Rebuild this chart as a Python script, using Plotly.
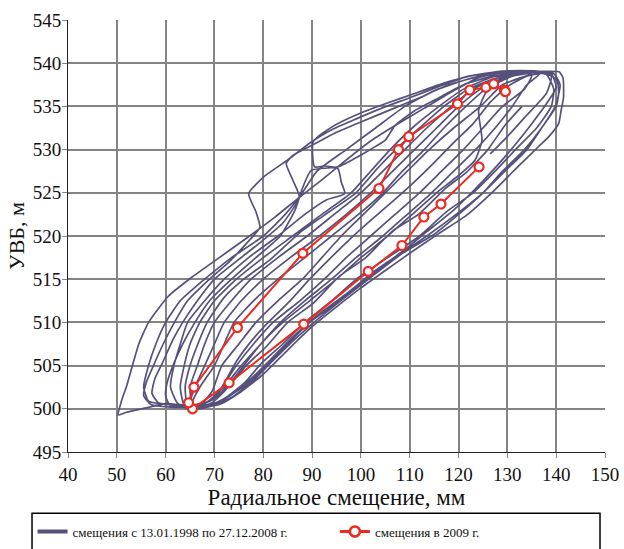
import plotly.graph_objects as go

# ---- dark series: radial displacement vs. upstream level, 1998-2008 (drawdown branch, then filling branch) ----
pts_1998 = [(133,535),(129.5,532.8),(126,530),(121.5,527.3),(117.5,525.6),(111.8,522.5),(106.5,520.6),(101,517.5),
            (95.5,515.3),(90.2,512.2),(85,510),(80.8,507.3),(76.5,505),(72,502),(69.5,500.7),(67,500.2),
            (64.5,500.4),(64,502.5),(65,505),(66.6,507.5),(68.5,510),(72,512.9),(76,515),(81.5,517.3),(87.5,520.4),
            (93.5,522.8),(99,525),(103.5,527.9),(107.5,530.2),(112,532.5),(117,535),(122,537),(128,538.3),(134,538.9)]
pts_1999 = [(138,538.7),(139.5,537),(139,535),(136,532.5),(132,530.2),(127.5,527.5),(123,525),(117.5,522.8),(112,520),
            (105.5,517.5),(99.5,515.2),(94,512.5),(88.5,510),(84,507.5),(79.5,505.2),(76.5,503.2),(74,502),(71,500.8),
            (66,500.3),(60,500.6),(56,500.1),(52,499.6),
            (50.3,499.3),(51,501),(52,502.6),(53.2,505),(54.5,507.5),(56.5,510),(60.5,513),(65.3,515.2),(70.5,517.3),
            (76.7,519.8),(82.2,522.1),(87,524.3),(92,526.5),(97,528.8),(102,531),(107,532.8),(113,534.8),(119,536.8),
            (124,538.3),(130,539.0),(137,539.05)]
pts_2000 = [(140.6,539),(141.4,538.3),(141.5,536),(141,534.5),(140.5,533),(138.5,531.5),(136.3,530.3),(131.6,527.7),
            (126.8,525),(121.4,522.3),(116,520.3),(110,518),(105,516),(100,514),(95,511.8),(90,509.5),(85,506.8),
            (80,504),(75,501.8),(71,500.5),(67,500.2),(61,500.2),(57,500.5),
            (55.5,501.5),(56,503),(57.5,505),(59.5,507.5),(61.8,510),(64.5,512.5),(69,515),(73,517),(76,518.8),
            (79.3,521),(78.5,522.8),(77,524.9),(80.2,526.9),(85,528.8),(89.9,530.9),(94,532.3),(98.8,533.5),
            (104.3,534.8),(110,536),(116,537.3),(122,538.5),(129,539.1),(136,539.1)]
pts_2001 = [(139,538.8),(140,537.2),(138,535.3),(135,533),(131.5,530.5),(128,528.2),(123.5,525.5),(119,523),(113.5,520.5),
            (108.5,518.2),(102.5,515.8),(97,513.3),(91.5,511),(86,508.3),(81.5,505.7),(77.5,503.5),(73,501.5),
            (69.5,500.5),(66.5,500.2),
            (62,500.4),(58.5,500.7),(57.2,501.8),(57.8,503.5),(59.5,505.5),(61.5,508),(63.5,510),(66.5,512.5),(70,515),
            (75,517.3),(79.5,519.3),(84,521.5),(87.4,524.5),(86.1,526.4),(84.7,528.4),(86,529.3),(90,530.5),(95,532),
            (100,533.2),(106,534.6),(112,536),(118,537.5),(125,538.6),(132,539)]
pts_2002 = [(135,538.6),(133.5,537),(129,535),(125,532.5),(121,530),(116.5,527.5),(112,525),(107,522.5),(102,520),
            (97,517.5),(92.5,515),(87.5,512.5),(82,510),(78,507.5),(74.5,505),(72.5,503.3),(71,502),(68.5,500.8),
            (65.5,500.3),
            (62.5,500.6),(61,502.5),(61.7,505),(63,507.5),(64.5,510),(68,512.5),(72,515),(77,517.5),(83,520),
            (88.5,522.5),(93,524.2),(96.7,524.9),(96,526.2),(95.3,527.8),(92.5,528.1),(90.5,528),(90.2,530.9),
            (94,532.6),(99,534),(105,535.3),(111,536.5),(117,537.7),(123,538.6),(130,539)]
pts_2003 = [(137,539),(134,537.5),(131,535),(127.5,532.5),(123.5,530),(119,527.5),(114.5,525),(109.5,522.5),
            (104.5,520),(99,517.5),(94,515),(88.5,512.5),(83.5,510),(79.5,507.5),(75.5,505),(73,503.2),(71.5,502),
            (69,500.9),(65,500.4),
            (60,500.5),(56.5,500.9),(55.5,502.5),(56.5,505),(58,507.5),(60,510),(63,512.5),(68,515),(73.5,517.5),
            (80,520),(84.5,522.5),(88,525),(91,527.5),(97,530),(103,532.5),(109,535),(115,536.8),(121,538),
            (127,538.8),(133,539)]
pts_2004 = [(138,538.9),(140.2,538),(140.5,536.5),(140,535),(137,532.5),(134,530),(129.5,527.5),(125,525),
            (119.5,522.5),(113.5,520),(107,517.5),(101,515),(95.5,512.5),(89.5,510),(85,507.5),(80.5,505),(77,503),
            (74.5,502),(70.5,500.6),(67.5,500.1),
            (65.5,500.3),(65,502.5),(66.5,505),(68,507.5),(70,510),(73.5,512.5),(77.5,515),(83,517.5),(89,520),
            (94.5,522.5),(100,525),(104.5,527.5),(109,530),(113.5,532.5),(118.5,535),(123,537),(128,538.3),(134,538.9)]
pts_2005 = [(135,538.8),(129,537.5),(124.5,535),(119,532.5),(114,530),(109.5,527.5),(105,525),(100.5,522.5),
            (96,520),(92,517.5),(88,515),(83,512.5),(78.5,510),(75,507.5),(71.5,505),(69.5,502),(67.5,500.7),(65,500.3),
            (61,500.3),(60,501.5),(60.3,503),(61.5,505),(63.5,507.5),(66,510),(69,512.5),(73.5,515),(78.5,517.5),
            (83.5,520),(86.5,523),(88,525.5),(89.8,527.6),(95.3,528),(98.8,529),(102.2,530.1),(105,531.1),(107,532.8),
            (111,534.5),(116,536),(121,537.5),(127,538.5),(133,539)]
pts_2006 = [(136,539.05),(139.5,538.8),(140.8,537.5),(139.8,535),(137,532.5),(133.5,530),(129,527.5),(125,525),
            (120,522.5),(115,520.2),(108.5,518),(102,515.2),(96.5,512.8),(91,510.3),(86,507.8),(81.5,505.3),
            (78,503.3),(74,501.5),(70.5,500.5),(67,500),
            (64,500.1),(63,502.5),(63.8,505),(65,507.5),(67,510),(70,512.5),(74.5,515),(80,517.5),(86,520),
            (92,522.5),(98,525),(102,527.5),(106,530),(110.5,532.5),(116,535),(121,537),(127,538.4),(133,539)]
pts_2007 = [(133,539.05),(129,538.2),(125.5,536.5),(124.1,534.5),(124.8,531.1),(123.4,528.8),(120,527),(115.5,525),
            (110.5,522.5),(105.5,520),(100,517.5),(95,515),(89.5,512.5),(84,510),(79.5,507.5),(76,505),(72.5,502.5),
            (70,501.2),(67,500.4),
            (65,500.6),(66,502.5),(68,505),(70,507.5),(72,510),(75.5,512.5),(80,515),(85.5,517.5),(91.5,520),
            (97,522.5),(102,525),(106.5,527.5),(111,530),(115.5,532.5),(120,535),(124.5,537),(130,538.5),(136,539)]
pts_2008 = [(138.5,539),(134,538.5),(130,537.3),(126.5,535.5),(123,533),(119,530.8),(115,528.5),(111,526.3),
            (106.5,524),(102,521.8),(97.5,519.5),(93.5,517.3),(89.5,515),(85.5,512.5),(81,510),(77.5,507.8),
            (74.5,505.5),(71.5,502.5),(69,500.9),(66,500.3),
            (65.5,500.8),(67,502.5),(70,505),(72,507.5),(74,510),(78,512.5),(83,515),(88.5,517.5),(94,520),
            (99.5,522.5),(104.5,525),(108.5,527.5),(113,530),(117,532.5),(121.5,535),(125.5,537),(131,538.5),
            (136,538.9),(139,538.5),(138,536.5),(134,534),(130,531.5),(126.5,529.5)]

# ---- red series: 2009 ----
x_2009 = [124.2, 116.4, 112.9, 108.4, 101.5, 88.3, 73.0, 65.5, 64.7, 65.8, 74.7, 88.1,
          103.7, 107.7, 109.8, 119.8, 122.3, 125.6, 127.2, 129.4, 129.6]
y_2009 = [528.0, 523.7, 522.2, 518.9, 515.9, 509.8, 503.0, 500.0, 500.7, 502.5, 509.4, 518.0,
          525.5, 530.0, 531.5, 535.3, 536.9, 537.2, 537.6, 536.9, 536.7]

x_ticks = list(range(40, 151, 10))
y_ticks = list(range(495, 546, 5))

dark_years = [pts_1998, pts_1999, pts_2000, pts_2001, pts_2002, pts_2003,
              pts_2004, pts_2005, pts_2006, pts_2007, pts_2008]
dx, dy = [], []
for pts in dark_years:
    for px, py in pts:
        dx.append(px)
        dy.append(py)

DARK = "#55517b"
RED = "#ec2a22"
FONT = "Liberation Serif"

fig = go.Figure()
fig.add_trace(go.Scatter(x=dx, y=dy, mode="lines", showlegend=False,
                         line=dict(color=DARK, width=1.7, shape="spline", smoothing=0.5),
                         hoverinfo="skip"))
fig.add_trace(go.Scatter(x=x_2009, y=y_2009, mode="lines+markers", showlegend=False,
                         line=dict(color=RED, width=2),
                         marker=dict(symbol="circle", size=9, color="white",
                                     line=dict(color=RED, width=2.2))))
# legend entries
fig.add_trace(go.Scatter(x=[None], y=[None], mode="lines", legend="legend",
                         name="смещения с 13.01.1998 по 27.12.2008 г.",
                         line=dict(color=DARK, width=4)))
fig.add_trace(go.Scatter(x=[None], y=[None], mode="lines+markers", legend="legend2",
                         name="смещения в 2009 г.",
                         line=dict(color=RED, width=3),
                         marker=dict(symbol="circle", size=10, color="white",
                                     line=dict(color=RED, width=2.6))))

grid = dict(showgrid=True, gridcolor="#848484", gridwidth=1.5,
            showline=True, linecolor="#222222", linewidth=1,
            ticks="outside", ticklen=5, tickcolor="#888888",
            tickfont=dict(family=FONT, size=19, color="#111111"),
            zeroline=False, automargin=False)

fig.update_xaxes(range=[40, 150], tickvals=x_ticks, **grid,
                 title=dict(text="Радиальное смещение, мм",
                            font=dict(family=FONT, size=23, color="#111111"), standoff=5))
fig.update_yaxes(range=[495, 545], tickvals=y_ticks, **grid, ticklabelstandoff=-3,
                 title=dict(text="УВБ, м",
                            font=dict(family=FONT, size=22, color="#111111"), standoff=2))

fig.add_shape(type="rect", xref="paper", yref="paper",
              x0=-0.067, x1=0.9907, y0=-0.26, y1=-0.142,
              line=dict(color="black", width=1.5), fillcolor="rgba(0,0,0,0)")

leg = dict(orientation="h", yanchor="middle", y=-0.184, xanchor="left",
           font=dict(family=FONT, size=13, color="#111111"),
           bgcolor="rgba(0,0,0,0)", borderwidth=0)
fig.update_layout(
    width=624, height=549,
    margin=dict(l=68, r=19, t=20, b=97, autoexpand=False),
    paper_bgcolor="white", plot_bgcolor="white",
    font=dict(family=FONT, size=14, color="#111111"),
    showlegend=True,
    legend=dict(x=-0.066, **leg),
    legend2=dict(x=0.497, **leg),
)

fig.write_html("out.html")
